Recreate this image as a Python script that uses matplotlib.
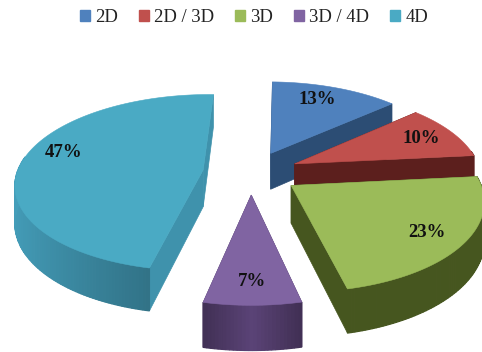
import numpy as np
import matplotlib
matplotlib.use("Agg")
import matplotlib.pyplot as plt
from matplotlib.patches import Patch

labels = ["2D", "2D / 3D", "3D", "3D / 4D", "4D"]
values = [13, 10, 23, 7, 47]
top_colors = ["#4f81bd", "#c0504d", "#9bbb59", "#8064a2", "#4aaac4"]
side_colors = ["#2c4d74", "#5c1f1d", "#46561f", "#513c6a", "#3f92ac"]

# camera and pie layout, in pixels
cx, cy = 251, 172.5
scale_x, scale_y = 186, 87
persp = 0.145
explode_x, explode_y = 0.26, 0.25
thickness = 37
first_angle = 1.5
label_radius = [0.8, 0.8, 0.8, 0.8, 0.82]
label_shift = [-3, 0, 0, 0, 9]

plt.rcParams["font.family"] = ["Liberation Serif", "DejaVu Serif"]


def project(x, y, z=0.0):
    w = 1 + persp * y
    return cx + scale_x * x / w, cy - scale_y * y / w + thickness * z / w


def shade(color, f):
    rgb = np.array(matplotlib.colors.to_rgb(color))
    return tuple(np.clip(rgb * f, 0, 1))


def wall_shade(i, nx):
    # cyan wall darkens toward the front, purple is lit in the middle
    if i == 4:
        return 1.08 - 0.32 * (nx + 1) / 0.85
    if i == 3:
        return 1.12 - 1.5 * abs(nx)
    return 1.0


fig = plt.figure(figsize=(4.82, 3.52), dpi=100)
ax = fig.add_axes([0, 0, 1, 1])
ax.set_xlim(0, 482)
ax.set_ylim(352, 0)
ax.axis("off")

fracs = np.array(values) / sum(values) * 360
ends = np.cumsum(fracs) + first_angle
starts = ends - fracs
mids = np.radians((starts + ends) / 2)


def draw_slice(i):
    t = np.radians(np.linspace(starts[i], ends[i], int(fracs[i]) + 2))
    ox = explode_x * np.sin(mids[i])
    oy = explode_y * np.cos(mids[i])
    xs = ox + np.sin(t)
    ys = oy + np.cos(t)

    # cut faces from the centre out to each end of the arc
    for k in (0, -1):
        p = [project(ox, oy), project(xs[k], ys[k]),
             project(xs[k], ys[k], 1), project(ox, oy, 1)]
        px, py = zip(*p)
        ax.fill(px, py, color=side_colors[i], lw=0.5, zorder=i)

    # outer wall, split in strips so it can be shaded across its width
    for a in range(len(t) - 1):
        nx = np.sin((t[a] + t[a + 1]) / 2)
        ny = np.cos((t[a] + t[a + 1]) / 2)
        if ny > 0.15:
            continue
        c = shade(side_colors[i], wall_shade(i, nx))
        p = [project(xs[a], ys[a]), project(xs[a + 1], ys[a + 1]),
             project(xs[a + 1], ys[a + 1], 1), project(xs[a], ys[a], 1)]
        px, py = zip(*p)
        ax.fill(px, py, color=c, lw=0.9, zorder=i)

    # top surface
    px, py = project(np.r_[ox, xs], np.r_[oy, ys])
    ax.fill(px, py, color=top_colors[i], lw=0.4, zorder=i)


# far slices first
for i in [0, 1, 4, 3, 2]:
    draw_slice(i)

for i, v in enumerate(values):
    a = mids[i] + np.radians(label_shift[i])
    x = explode_x * np.sin(mids[i]) + label_radius[i] * np.sin(a)
    y = explode_y * np.cos(mids[i]) + label_radius[i] * np.cos(a)
    tx, ty = project(x, y)
    ax.text(tx, ty + 1, f"{v}%", ha="center", va="center", fontsize=13.5,
            fontweight="bold", color="#111111", zorder=10)

handles = [Patch(color=c, label=l) for c, l in zip(top_colors, labels)]
ax.legend(handles=handles, loc="upper center", bbox_to_anchor=(0.527, 1.022), ncol=5,
          frameon=False, fontsize=13.4, handlelength=0.54, handleheight=0.54,
          handletextpad=0.25, columnspacing=1.15, labelcolor="#222222")

plt.savefig("out.png", dpi=100)
plt.close()
